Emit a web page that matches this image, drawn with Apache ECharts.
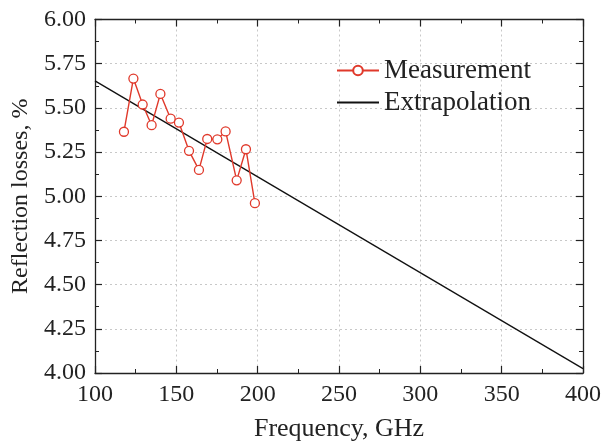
<!DOCTYPE html>
<html>
<head>
<meta charset="utf-8">
<script src="https://cdn.jsdelivr.net/npm/echarts@6/dist/echarts.min.js"></script>
<style>html,body{margin:0;padding:0;background:#fff;}#c{width:605px;height:447px;}</style>
</head>
<body>
<div id="c"></div>
<script>
var measFreq = [117.8, 123.6, 129.3, 134.8, 140.2, 146.5, 151.6, 157.8, 163.9, 169.0, 175.2, 180.3, 187.1, 192.8, 198.3];
var measVal  = [5.365, 5.666, 5.519, 5.402, 5.579, 5.439, 5.417, 5.257, 5.149, 5.324, 5.322, 5.367, 5.090, 5.266, 4.961];
var extFreq = [100, 400];
var extVal  = [5.653, 4.025];
var seriesNames = ['Measurement', 'Extrapolation'];
var xTitle = 'Frequency, GHz';
var yTitle = 'Reflection losses, %';

var FONT = 'Liberation Serif';
var chart = echarts.init(document.getElementById('c'), null, {renderer: 'canvas'});
function pairs(xs, ys){ return xs.map(function(x,i){ return [x, ys[i]]; }); }
var gridLine = {show: true, lineStyle: {color: '#c8c8c8', type: [2, 3], width: 1}};
var axisLineStyle = {show: true, lineStyle: {color: '#222', width: 1.3}};
var tickIn = {show: true, inside: true, length: 7, lineStyle: {color: '#222', width: 1.2}};
var minorIn = {show: true, splitNumber: 2, length: 4, lineStyle: {color: '#222', width: 1}};
chart.setOption({
  animation: false,
  grid: {left: 95, right: 22, top: 19.5, bottom: 69, containLabel: false},
  legend: {
    orient: 'vertical', left: 336, top: 57, padding: 0, itemWidth: 42, itemHeight: 12, itemGap: 5,
    textStyle: {fontFamily: FONT, fontSize: 27, color: '#222'},
    data: [
      {name: seriesNames[0]},
      {name: seriesNames[1], itemStyle: {color: 'transparent', borderColor: 'transparent'}}
    ]
  },
  xAxis: [{
    type: 'value', min: 100, max: 400, interval: 50,
    name: xTitle, nameLocation: 'middle', nameGap: 43,
    nameTextStyle: {fontFamily: FONT, fontSize: 26, color: '#222'},
    axisLabel: {fontFamily: FONT, fontSize: 24, color: '#222', margin: 10},
    axisLine: axisLineStyle, axisTick: tickIn, minorTick: minorIn, splitLine: gridLine
  }, {
    type: 'value', position: 'top', min: 100, max: 400, interval: 50,
    axisLabel: {show: false}, axisLine: axisLineStyle, axisTick: tickIn, minorTick: minorIn, splitLine: {show: false}
  }],
  yAxis: [{
    type: 'value', min: 4, max: 6, interval: 0.25,
    name: yTitle, nameLocation: 'middle', nameGap: 62,
    nameTextStyle: {fontFamily: FONT, fontSize: 24, color: '#222'},
    axisLabel: {fontFamily: FONT, fontSize: 24, color: '#222', margin: 9, formatter: function(v){ return v.toFixed(2); }},
    axisLine: axisLineStyle, axisTick: tickIn, minorTick: minorIn, splitLine: gridLine
  }, {
    type: 'value', position: 'right', min: 4, max: 6, interval: 0.25,
    axisLabel: {show: false}, axisLine: axisLineStyle, axisTick: tickIn, minorTick: minorIn, splitLine: {show: false}
  }],
  series: [{
    name: seriesNames[0], type: 'line', data: pairs(measFreq, measVal),
    symbol: 'circle', symbolSize: 9, showAllSymbol: true,
    itemStyle: {color: '#fff', borderColor: '#e0392b', borderWidth: 1.3},
    lineStyle: {color: '#e0392b', width: 1.4}, z: 3
  }, {
    name: seriesNames[1], type: 'line', data: pairs(extFreq, extVal),
    symbol: 'none', itemStyle: {color: '#111'}, lineStyle: {color: '#111', width: 1.3}, z: 2
  }]
});
</script>
</body>
</html>
